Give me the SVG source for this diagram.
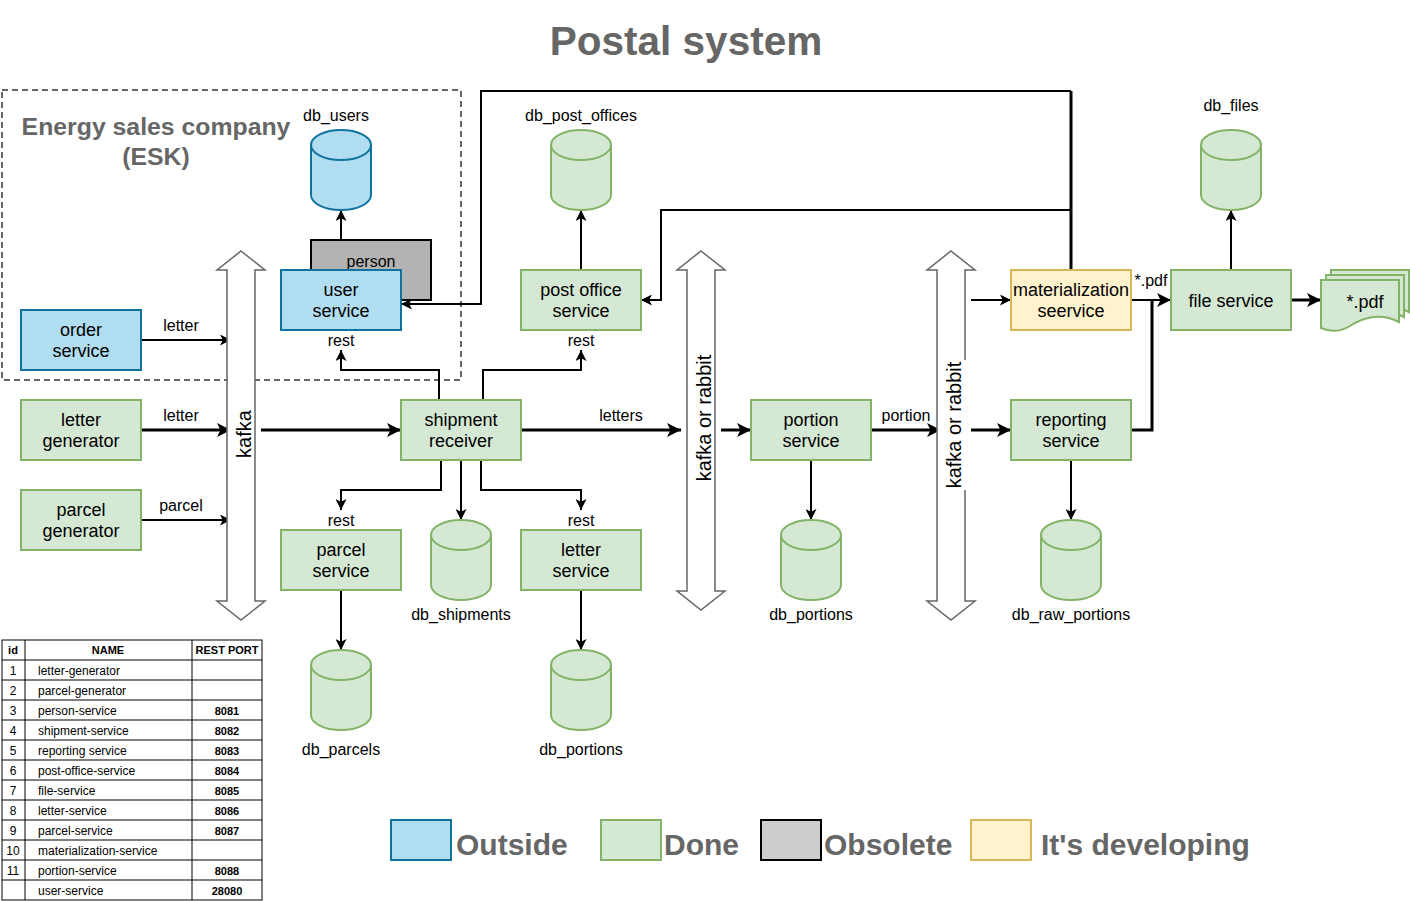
<svg xmlns="http://www.w3.org/2000/svg" width="1410" height="901" viewBox="0 0 1410 901">
<defs>
<style>
text{font-family:"Liberation Sans",Arial,sans-serif;}
.t{font-size:18px;fill:#000;text-anchor:middle;}
.l{font-size:16px;fill:#000;text-anchor:middle;}
.blue{fill:#b1ddf0;stroke:#10739e;stroke-width:2;}
.green{fill:#d5e8d4;stroke:#82b366;stroke-width:2;}
.yellow{fill:#fff2cc;stroke:#d6b656;stroke-width:2;}
.gray{fill:#b3b3b3;stroke:#000;stroke-width:2;}
.bus{fill:#fff;stroke:#666;stroke-width:1.5;}
.c2{fill:none;stroke:#000;stroke-width:2;}
.c3{fill:none;stroke:#000;stroke-width:3;}
.a{marker-end:url(#ar);}
.ab{marker-end:url(#arb);}
.big{font-weight:bold;fill:#666;}
.tb{font-size:12px;fill:#000;}
.th{font-size:11px;font-weight:bold;fill:#000;text-anchor:middle;}
.grid{stroke:#000;stroke-width:1;fill:none;}
</style>
<marker id="ar" markerUnits="userSpaceOnUse" viewBox="0 0 10 10" markerWidth="11" markerHeight="11" refX="10" refY="5" orient="auto">
<path d="M0,0 L10,5 L0,10 L2.5,5 z" fill="#000"/>
</marker>
<marker id="arb" markerUnits="userSpaceOnUse" viewBox="0 0 10 10" markerWidth="15" markerHeight="14" refX="10" refY="5" orient="auto">
<path d="M0,0 L10,5 L0,10 L2.5,5 z" fill="#000"/>
</marker>
</defs>
<rect x="0" y="0" width="1410" height="901" fill="#fff"/>

<text x="686" y="55" class="big" font-size="40.5" text-anchor="middle">Postal system</text>

<g id="esk">
<rect x="2" y="90" width="459" height="290" fill="none" stroke="#666" stroke-width="2" stroke-dasharray="6 4"/>
<text x="156" y="135" class="big" font-size="24.8" text-anchor="middle">Energy sales company</text>
<text x="156" y="165" class="big" font-size="24.8" text-anchor="middle">(ESK)</text>
</g>

<g id="connectors">
<path class="c2 a" d="M141,340 H231"/>
<path class="c3 ab" d="M141,430 H231"/>
<path class="c2 a" d="M141,520 H231"/>
<path class="c3 ab" d="M261,430 H401"/>
<path class="c2 a" d="M341,240 V210"/>
<path class="c2 a" d="M439,400 V370 H341 V350"/>
<path class="c2 a" d="M483,400 V370 H581 V350"/>
<path class="c2 a" d="M581,270 V210"/>
<path class="c3" d="M1071,270 V91"/>
<path class="c2 a" d="M1071,91 H481 V304 H401"/>
<path class="c2 a" d="M1071,210 H661 V300 H641"/>
<path class="c3 ab" d="M521,430 H681"/>
<path class="c2 a" d="M441,460 V490 H341 V510"/>
<path class="c2 a" d="M461,460 V520"/>
<path class="c2 a" d="M481,460 V490 H581 V510"/>
<path class="c2 a" d="M341,590 V650"/>
<path class="c2 a" d="M581,590 V650"/>
<path class="c3 ab" d="M721,430 H751"/>
<path class="c2 a" d="M811,460 V520"/>
<path class="c3 ab" d="M871,430 H941"/>
<path class="c2 a" d="M971,300 H1011"/>
<path class="c3 ab" d="M971,430 H1011"/>
<path class="c2 a" d="M1071,460 V520"/>
<path class="c2 ab" d="M1131,300 H1171"/>
<path class="c3" d="M1131,430 H1152 V300"/>
<path class="c2 a" d="M1231,270 V210"/>
<path class="c3 ab" d="M1291,300 H1321"/>
<text x="181" y="331" class="l">letter</text>
<text x="181" y="421" class="l">letter</text>
<text x="181" y="511" class="l">parcel</text>
<text x="341" y="346" class="l">rest</text>
<text x="581" y="346" class="l">rest</text>
<text x="341" y="526" class="l">rest</text>
<text x="581" y="526" class="l">rest</text>
<text x="621" y="421" class="l">letters</text>
<text x="906" y="421" class="l">portion</text>
<text x="1151" y="286" class="l">*.pdf</text>
</g>

<g id="kafka">
<path class="bus" d="M241,251 L265,270 L255,270 L255,601 L265,601 L241,620 L217,601 L227,601 L227,270 L217,270 Z"/>
<text transform="translate(251,434) rotate(-90)" font-size="20" text-anchor="middle">kafka</text>
</g>
<g id="bus1">
<path class="bus" d="M701,251 L725,270 L715,270 L715,591 L725,591 L701,610 L677,591 L687,591 L687,270 L677,270 Z"/>
<text transform="translate(711,418) rotate(-90)" font-size="20" text-anchor="middle">kafka or rabbit</text>
</g>
<g id="bus2">
<path class="bus" d="M951,251 L975,270 L965,270 L965,601 L975,601 L951,620 L927,601 L937,601 L937,270 L927,270 Z"/>
<rect x="944" y="360" width="22" height="130" fill="#fff"/>
<text transform="translate(961,425) rotate(-90)" font-size="20" text-anchor="middle">kafka or rabbit</text>
</g>

<g id="db_users">
<path class="blue" d="M311,145 A30,15 0 0 1 371,145 V195 A30,15 0 0 1 311,195 Z"/>
<path class="blue" fill="none" d="M311,145 A30,15 0 0 0 371,145"/>
<text x="336" y="121" class="l">db_users</text>
</g>
<g id="person">
<rect x="311" y="240" width="120" height="60" class="gray"/>
<text x="371" y="267" class="l">person</text>
</g>
<g id="user_service">
<rect x="281" y="270" width="120" height="60" class="blue"/>
<text x="341" y="296" class="t">user</text>
<text x="341" y="317" class="t">service</text>
</g>
<g id="order_service">
<rect x="21" y="310" width="120" height="60" class="blue"/>
<text x="81" y="336" class="t">order</text>
<text x="81" y="357" class="t">service</text>
</g>
<g id="letter_generator">
<rect x="21" y="400" width="120" height="60" class="green"/>
<text x="81" y="426" class="t">letter</text>
<text x="81" y="447" class="t">generator</text>
</g>
<g id="parcel_generator">
<rect x="21" y="490" width="120" height="60" class="green"/>
<text x="81" y="516" class="t">parcel</text>
<text x="81" y="537" class="t">generator</text>
</g>
<g id="shipment_receiver">
<rect x="401" y="400" width="120" height="60" class="green"/>
<text x="461" y="426" class="t">shipment</text>
<text x="461" y="447" class="t">receiver</text>
</g>
<g id="post_office_service">
<rect x="521" y="270" width="120" height="60" class="green"/>
<text x="581" y="296" class="t">post office</text>
<text x="581" y="317" class="t">service</text>
</g>
<g id="db_post_offices">
<path class="green" d="M551,145 A30,15 0 0 1 611,145 V195 A30,15 0 0 1 551,195 Z"/>
<path class="green" fill="none" d="M551,145 A30,15 0 0 0 611,145"/>
<text x="581" y="121" class="l">db_post_offices</text>
</g>
<g id="parcel_service">
<rect x="281" y="530" width="120" height="60" class="green"/>
<text x="341" y="556" class="t">parcel</text>
<text x="341" y="577" class="t">service</text>
</g>
<g id="letter_service">
<rect x="521" y="530" width="120" height="60" class="green"/>
<text x="581" y="556" class="t">letter</text>
<text x="581" y="577" class="t">service</text>
</g>
<g id="db_shipments">
<path class="green" d="M431,535 A30,15 0 0 1 491,535 V585 A30,15 0 0 1 431,585 Z"/>
<path class="green" fill="none" d="M431,535 A30,15 0 0 0 491,535"/>
<text x="461" y="620" class="l">db_shipments</text>
</g>
<g id="db_parcels">
<path class="green" d="M311,665 A30,15 0 0 1 371,665 V715 A30,15 0 0 1 311,715 Z"/>
<path class="green" fill="none" d="M311,665 A30,15 0 0 0 371,665"/>
<text x="341" y="755" class="l">db_parcels</text>
</g>
<g id="db_portions_letters">
<path class="green" d="M551,665 A30,15 0 0 1 611,665 V715 A30,15 0 0 1 551,715 Z"/>
<path class="green" fill="none" d="M551,665 A30,15 0 0 0 611,665"/>
<text x="581" y="755" class="l">db_portions</text>
</g>
<g id="portion_service">
<rect x="751" y="400" width="120" height="60" class="green"/>
<text x="811" y="426" class="t">portion</text>
<text x="811" y="447" class="t">service</text>
</g>
<g id="db_portions">
<path class="green" d="M781,535 A30,15 0 0 1 841,535 V585 A30,15 0 0 1 781,585 Z"/>
<path class="green" fill="none" d="M781,535 A30,15 0 0 0 841,535"/>
<text x="811" y="620" class="l">db_portions</text>
</g>
<g id="materialization_service">
<rect x="1011" y="270" width="120" height="60" class="yellow"/>
<text x="1071" y="296" class="t">materialization</text>
<text x="1071" y="317" class="t">seervice</text>
</g>
<g id="reporting_service">
<rect x="1011" y="400" width="120" height="60" class="green"/>
<text x="1071" y="426" class="t">reporting</text>
<text x="1071" y="447" class="t">service</text>
</g>
<g id="db_raw_portions">
<path class="green" d="M1041,535 A30,15 0 0 1 1101,535 V585 A30,15 0 0 1 1041,585 Z"/>
<path class="green" fill="none" d="M1041,535 A30,15 0 0 0 1101,535"/>
<text x="1071" y="620" class="l">db_raw_portions</text>
</g>
<g id="file_service">
<rect x="1171" y="270" width="120" height="60" class="green"/>
<text x="1231" y="307" class="t">file service</text>
</g>
<g id="db_files">
<path class="green" d="M1201,145 A30,15 0 0 1 1261,145 V195 A30,15 0 0 1 1201,195 Z"/>
<path class="green" fill="none" d="M1201,145 A30,15 0 0 0 1261,145"/>
<text x="1231" y="111" class="l">db_files</text>
</g>
<g id="pdf">
<path class="green" d="M1331,270 H1409 V312 C1390,302 1372,308 1360,316 C1350,322 1340,322 1331,318 Z"/>
<path class="green" d="M1326,275 H1404 V317 C1385,307 1367,313 1355,321 C1345,327 1335,327 1326,323 Z"/>
<path class="green" d="M1321,280 H1399 V322 C1380,312 1362,318 1350,326 C1340,332 1330,332 1321,328 Z"/>
<text x="1365" y="308" class="t">*.pdf</text>
</g>

<g id="table">
<rect x="2" y="640" width="260" height="260" class="grid"/>
<path class="grid" d="M25,640 V900 M192,640 V900 M2,660 H262 M2,680 H262 M2,700 H262 M2,720 H262 M2,740 H262 M2,760 H262 M2,780 H262 M2,800 H262 M2,820 H262 M2,840 H262 M2,860 H262 M2,880 H262"/>
<text x="13" y="654" class="th">id</text>
<text x="108" y="654" class="th">NAME</text>
<text x="227" y="654" class="th">REST PORT</text>
<g class="tb">
<text x="13" y="675" text-anchor="middle">1</text><text x="38" y="675">letter-generator</text>
<text x="13" y="695" text-anchor="middle">2</text><text x="38" y="695">parcel-generator</text>
<text x="13" y="715" text-anchor="middle">3</text><text x="38" y="715">person-service</text>
<text x="13" y="735" text-anchor="middle">4</text><text x="38" y="735">shipment-service</text>
<text x="13" y="755" text-anchor="middle">5</text><text x="38" y="755">reporting service</text>
<text x="13" y="775" text-anchor="middle">6</text><text x="38" y="775">post-office-service</text>
<text x="13" y="795" text-anchor="middle">7</text><text x="38" y="795">file-service</text>
<text x="13" y="815" text-anchor="middle">8</text><text x="38" y="815">letter-service</text>
<text x="13" y="835" text-anchor="middle">9</text><text x="38" y="835">parcel-service</text>
<text x="13" y="855" text-anchor="middle">10</text><text x="38" y="855">materialization-service</text>
<text x="13" y="875" text-anchor="middle">11</text><text x="38" y="875">portion-service</text>
<text x="38" y="895">user-service</text>
</g>
<text x="227" y="715" class="th">8081</text>
<text x="227" y="735" class="th">8082</text>
<text x="227" y="755" class="th">8083</text>
<text x="227" y="775" class="th">8084</text>
<text x="227" y="795" class="th">8085</text>
<text x="227" y="815" class="th">8086</text>
<text x="227" y="835" class="th">8087</text>
<text x="227" y="875" class="th">8088</text>
<text x="227" y="895" class="th">28080</text>
</g>

<g id="legend">
<rect x="391" y="820" width="60" height="40" class="blue"/>
<text x="456" y="855" class="big" font-size="30">Outside</text>
<rect x="601" y="820" width="60" height="40" class="green"/>
<text x="664" y="855" class="big" font-size="30">Done</text>
<rect x="761" y="820" width="60" height="40" fill="#cccccc" stroke="#000" stroke-width="2"/>
<text x="824" y="855" class="big" font-size="30">Obsolete</text>
<rect x="971" y="820" width="60" height="40" class="yellow"/>
<text x="1041" y="855" class="big" font-size="30">It's developing</text>
</g>
</svg>
